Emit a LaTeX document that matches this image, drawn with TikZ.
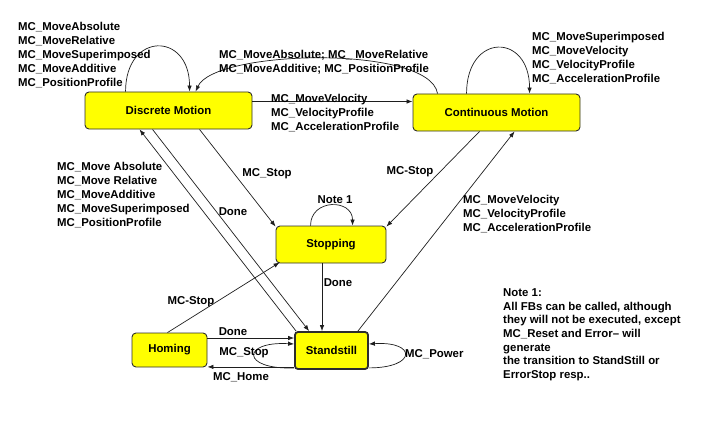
\documentclass[tikz,border=0pt]{standalone}
\usepackage{fontspec}
\setmainfont{Liberation Sans}
\usetikzlibrary{arrows.meta}

\definecolor{stateyellow}{RGB}{255,255,0}
\definecolor{stateedge}{RGB}{45,45,45}
\definecolor{wire}{RGB}{30,30,30}

\begin{document}
\begin{tikzpicture}[
    x=1pt, y=-1pt,
    >={Latex[length=6pt,width=4.5pt]},
    state/.style={rectangle, rounded corners=4pt, draw=stateedge, line width=0.9pt, fill=stateyellow, inner sep=0pt, font=\fontsize{11.4}{14}\selectfont\bfseries},
    rest/.style={state, line width=1.8pt, rounded corners=3pt},
    trn/.style={->, draw=wire, line width=0.7pt},
    lbl/.style={inner sep=0pt, text height=8.2pt, text depth=0pt, font=\fontsize{11.4}{14}\selectfont\bfseries},
    lbls/.style={inner sep=0pt, anchor=north west, align=left, font=\fontsize{11.4}{14}\selectfont\bfseries}
]
\useasboundingbox (0,0) rectangle (706,425);

% --- States ---
\node[state, minimum width=167pt, minimum height=37pt] (dm) at (168.5,110.5) {Discrete Motion};
\node[state, minimum width=167pt, minimum height=37pt] (cm) at (496.5,112.5) {Continuous Motion};
\node[state, minimum width=110pt, minimum height=37pt] (st) at (331,244.5) {Stopping};
\node[rest, minimum width=73pt, minimum height=37pt] (ss) at (331.5,350.5) {Standstill};
\node[state, minimum width=75pt, minimum height=34pt] (hm) at (169.5,350) {Homing};

% --- Transitions of the motion states ---
\draw[trn] ([xshift=41pt]dm.north west) .. controls +(0,-60) and +(0,-60) .. ([xshift=105pt]dm.north west);
\draw[trn] ([xshift=25pt]cm.north west) .. controls +(-8,-49) and +(19,-42) .. ([xshift=111pt]dm.north west);
\draw[trn] ([yshift=9pt]dm.east) -- ([yshift=9pt]dm.east -| cm.west);
\draw[trn] ([xshift=54pt]cm.north west) .. controls +(0,-61) and +(0,-61) .. ([xshift=117pt]cm.north west);

\draw[trn] ([xshift=115pt]dm.south west) -- ([yshift=-1pt]st.north west);
\draw[trn] ([xshift=67pt]cm.south west) -- ([yshift=-1pt]st.north east);
\draw[trn] ([xshift=-11pt]ss.north east) -- ([xshift=102pt]cm.south west);
\draw[trn] ([xshift=2pt]ss.north west) -- ([xshift=55pt]dm.south west);
\draw[trn] ([xshift=68pt]dm.south west) -- ([xshift=15pt]ss.north west);

% --- Stopping, Homing and Standstill ---
\draw[trn] ([xshift=35pt]st.north west) .. controls +(0,-27) and +(0,-27) .. ([xshift=77pt]st.north west);
\draw[trn] ([xshift=-9pt]st.south) -- ([xshift=-9.5pt]ss.north);
\draw[trn] ([xshift=-2pt]hm.north) -- ([xshift=4pt,yshift=1pt]st.south west);
\draw[trn] ([yshift=12pt]hm.east) -- ([yshift=12pt]hm.east -| ss.west);
\draw[trn] ([yshift=2pt]ss.south west) .. controls +(-53,2) and +(-53,-3) .. ([yshift=6.5pt]ss.west);
\draw[trn] ([yshift=3pt]ss.south west) -- ([yshift=3pt]ss.south west -| hm.east);
\draw[trn] ([yshift=2pt]ss.south east) .. controls +(48,0) and +(48,-3) .. ([yshift=6.5pt]ss.east);

% --- Labels ---
\node[lbls] (lDmLoop) at (18,22.2) {MC\_MoveAbsolute\\MC\_MoveRelative\\MC\_MoveSuperimposed\\MC\_MoveAdditive\\MC\_PositionProfile};
\node[lbls] (lCmDm) at (219,49.8) {MC\_MoveAbsolute; MC\_ MoveRelative\\MC\_MoveAdditive; MC\_PositionProfile};
\node[lbls] (lDmCm) at (271,93.8) {MC\_MoveVelocity\\MC\_VelocityProfile\\MC\_AccelerationProfile};
\node[lbls] (lCmLoop) at (532,32.5) {MC\_MoveSuperimposed\\MC\_MoveVelocity\\MC\_VelocityProfile\\MC\_AccelerationProfile};
\node[lbls] (lSsCm) at (463,195) {MC\_MoveVelocity\\MC\_VelocityProfile\\MC\_AccelerationProfile};
\node[lbls] (lSsDm) at (57,162.5) {MC\_Move Absolute\\MC\_Move Relative\\MC\_MoveAdditive\\MC\_MoveSuperimposed\\MC\_PositionProfile};

\node[lbl] (lDmSt) at (267,172) {MC\_Stop};
\node[lbl] (lCmSt) at (410,170) {MC-Stop};
\node[lbl] (lDmSs) at (233,211) {Done};
\node[lbl] (lStLoop) at (335,199) {Note 1};
\node[lbl] (lStSs) at (338,282) {Done};
\node[lbl] (lHmSt) at (191,300) {MC-Stop};
\node[lbl] (lHmSs) at (233,331.5) {Done};
\node[lbl] (lSsStop) at (244,351) {MC\_Stop};
\node[lbl] (lSsHm) at (241,376) {MC\_Home};
\node[lbl, anchor=west] (lSsPow) at (405,353) {MC\_Power};

% --- Note ---
\node[lbls, font=\fontsize{11.4}{13.6}\selectfont\bfseries] (note) at (503,288.6) {Note 1:\\All FBs can be called, although\\they will not be executed, except\\MC\_Reset and Error-- will\\generate\\the transition to StandStill or\\ErrorStop resp..};

\end{tikzpicture}
\end{document}
